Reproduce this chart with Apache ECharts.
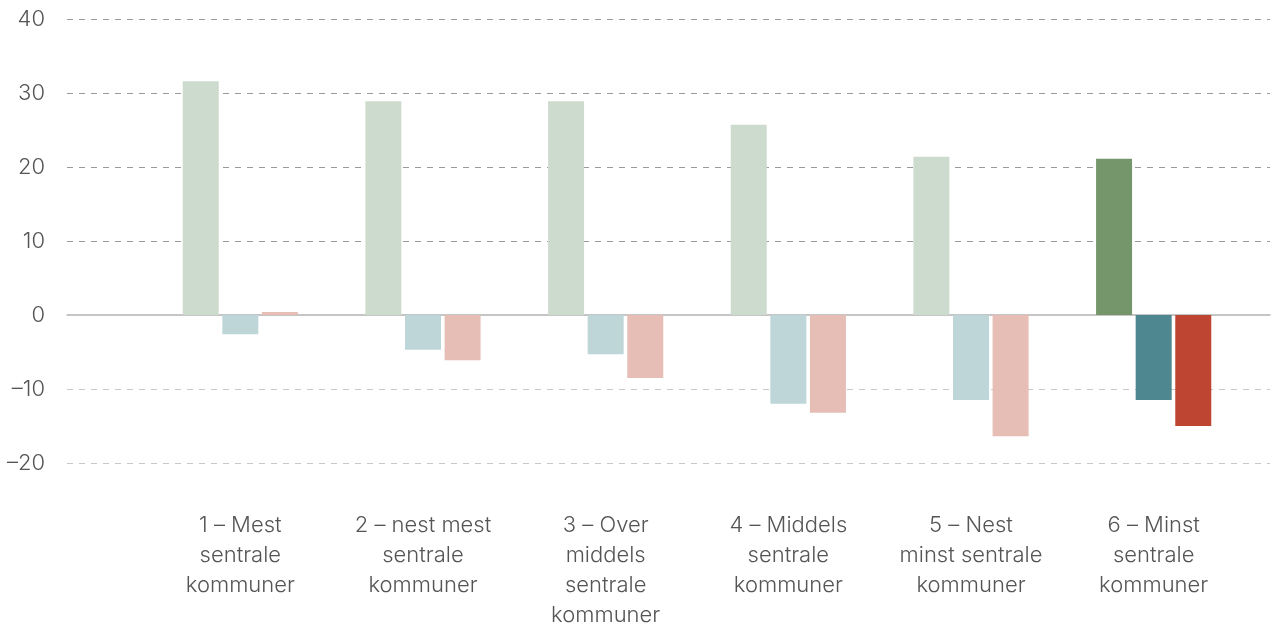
<!DOCTYPE html>
<html>
<head>
<meta charset="utf-8">
<script src="https://cdn.jsdelivr.net/npm/echarts@6/dist/echarts.min.js"></script>
<style>
html,body{margin:0;padding:0;background:#fff;}
#chart{width:1274px;height:623px;}
</style>
</head>
<body>
<div id="chart"></div>
<script>
const categories = [
  "1 – Mest\nsentrale\nkommuner",
  "2 – nest mest\nsentrale\nkommuner",
  "3 – Over\nmiddels\nsentrale\nkommuner",
  "4 – Middels\nsentrale\nkommuner",
  "5 – Nest\nminst sentrale\nkommuner",
  "6 – Minst\nsentrale\nkommuner"
];
const seriesA = [31.6, 28.9, 28.9, 25.7, 21.4, 21.1];
const seriesB = [-2.6, -4.7, -5.3, -12.0, -11.5, -11.5];
const seriesC = [0.4, -6.1, -8.5, -13.2, -16.4, -15.0];
const yMin = -20, yMax = 40, yStep = 10;

const lightColors = ["#cddbce", "#bed6d8", "#e6beb6"];
const darkColors = ["#75966b", "#4e8790", "#bd4532"];
const highlightIndex = 5;

function build(values, si) {
  return values.map((v, i) => ({
    value: v,
    itemStyle: { color: i === highlightIndex ? darkColors[si] : lightColors[si] }
  }));
}

const textColor = "#555555";
const fontFamily = "Inter, 'Open Sans', sans-serif";

const chart = echarts.init(document.getElementById("chart"), null, { renderer: "canvas" });
chart.setOption({
  animation: false,
  backgroundColor: "#fff",
  grid: [
    { left: 67, right: 4, top: 19, bottom: 160, containLabel: false, outerBoundsMode: "none" },
    { left: 149, width: 1096, top: 19, bottom: 160, containLabel: false, outerBoundsMode: "none" }
  ],
  xAxis: [
    {
      gridIndex: 0, type: "category", data: [""],
      axisLine: { show: true, onZero: true, lineStyle: { color: "#b3b3b3", width: 1.5 } },
      axisTick: { show: false }, axisLabel: { show: false }
    },
    {
      gridIndex: 1, type: "category", data: categories,
      axisLine: { show: false, onZero: false }, axisTick: { show: false },
      axisLabel: {
        interval: 0, margin: 47, color: textColor, fontSize: 22, fontWeight: 300,
        lineHeight: 30, fontFamily: fontFamily, align: "center", verticalAlign: "top"
      }
    }
  ],
  yAxis: [
    {
      gridIndex: 0, type: "value", min: yMin, max: yMax, interval: yStep,
      axisLine: { show: false }, axisTick: { show: false },
      axisLabel: {
        margin: 22, color: textColor, fontSize: 22, fontWeight: 300, fontFamily: fontFamily,
        formatter: v => String(v).replace("-", "–")
      },
      splitLine: {
        show: true,
        lineStyle: {
          type: [6, 6],
          color: ["#c8c8c8", "#c8c8c8", "rgba(0,0,0,0)", "#9a9a9a", "#9a9a9a", "#9a9a9a", "#9a9a9a"],
          width: 1
        }
      }
    },
    {
      gridIndex: 1, type: "value", min: yMin, max: yMax, interval: yStep,
      show: false, splitLine: { show: false }
    }
  ],
  series: [
    { type: "bar", xAxisIndex: 1, yAxisIndex: 1, barWidth: 36, barGap: "10%", data: build(seriesA, 0), z: 3 },
    { type: "bar", xAxisIndex: 1, yAxisIndex: 1, barWidth: 36, barGap: "10%", data: build(seriesB, 1), z: 3 },
    { type: "bar", xAxisIndex: 1, yAxisIndex: 1, barWidth: 36, barGap: "10%", data: build(seriesC, 2), z: 3 }
  ]
});
</script>
</body>
</html>
